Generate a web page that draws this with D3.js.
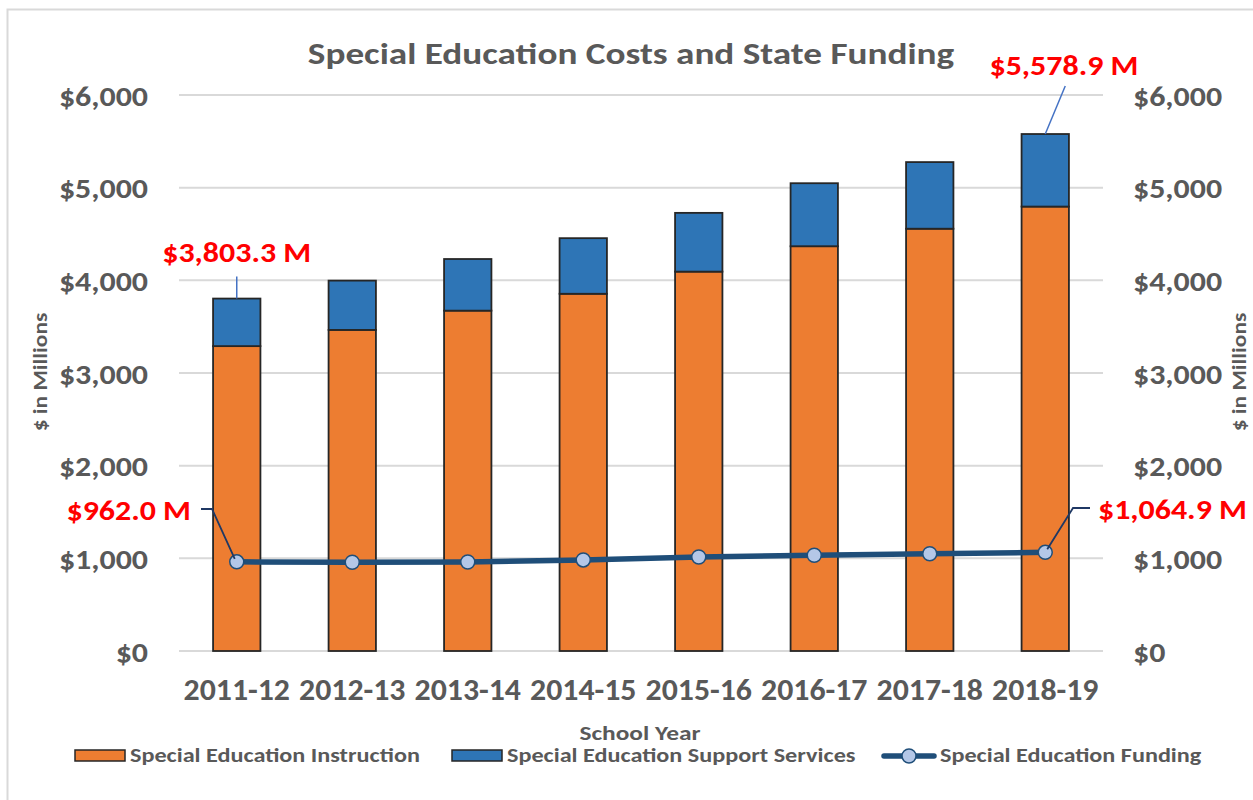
<!DOCTYPE html>
<html>
<head>
<meta charset="utf-8">
<script src="https://cdn.jsdelivr.net/npm/d3@7"></script>
<style>
  body { margin: 0; background: #fff; }
  text { font-family: Calibri, Carlito, Lato, sans-serif; font-weight: bold; }
</style>
</head>
<body>
<svg></svg>
<script>
var width = 1253,
    height = 800;

var years = ["2011-12", "2012-13", "2013-14", "2014-15", "2015-16", "2016-17", "2017-18", "2018-19"];
var instruction = [3290, 3465, 3673, 3855, 4094, 4368, 4557, 4796];
var support = [513.3, 532, 557, 600, 634, 680, 719, 782.9];
var funding = [962.0, 958, 960, 983, 1014, 1033, 1049, 1064.9];
var yTicks = [0, 1000, 2000, 3000, 4000, 5000, 6000];
var seriesNames = ["Special Education Instruction", "Special Education Support Services", "Special Education Funding"];

var grey = "#595959";

var svg = d3.select("svg")
            .attr("width", width)
            .attr("height", height);

// the source font is wider than Lato, so widen text a bit
function fit(sel, size, k) {
  sel.style("font-size", size + "px")
     .each(function() {
       var w = this.getComputedTextLength();
       d3.select(this)
         .attr("textLength", w * k)
         .attr("lengthAdjust", "spacingAndGlyphs");
     });
  return sel;
}

// chart border
svg.append("rect")
   .attr("x", 7.5).attr("y", 9.5)
   .attr("width", 1270).attr("height", 800)
   .attr("fill", "none")
   .attr("stroke", "#D9D9D9")
   .attr("stroke-width", 2);

var x = d3.scaleBand()
          .domain(years)
          .range([179, 1103])
          .paddingInner(0.59)
          .paddingOuter(0.295);

var y = d3.scaleLinear()
          .domain([0, 6000])
          .range([651, 95]);

// gridlines
svg.append("g")
   .selectAll("line")
   .data(yTicks)
   .enter()
   .append("line")
     .attr("x1", 179).attr("x2", 1103)
     .attr("y1", d => y(d)).attr("y2", d => y(d))
     .attr("stroke", "#D9D9D9")
     .attr("stroke-width", 2);

// y axes (left and right)
var fmt = d => "$" + d3.format(",")(d);
var leftAxis = svg.append("g")
   .attr("transform", "translate(179,0)")
   .call(d3.axisLeft(y).tickValues(yTicks).tickFormat(fmt).tickSize(0).tickPadding(31));
var rightAxis = svg.append("g")
   .attr("transform", "translate(1103,0)")
   .call(d3.axisRight(y).tickValues(yTicks).tickFormat(fmt).tickSize(0).tickPadding(30));
[leftAxis, rightAxis].forEach(function(a){
  a.select(".domain").remove();
  var t = a.selectAll("text")
   .attr("fill", grey)
   .attr("dy", "0.36em");
  fit(t, 28, 1.14);
});

// x axis
var xAxis = svg.append("g")
   .attr("transform", "translate(0,651)")
   .call(d3.axisBottom(x).tickSize(0).tickPadding(28));
xAxis.select(".domain").remove();
fit(xAxis.selectAll("text").attr("fill", grey), 30, 1.06);

// stacked bars
var rows = years.map((yr, i) => ({year: yr, instruction: instruction[i], support: support[i]}));
var stack = d3.stack().keys(["instruction", "support"]);
var colors = {instruction: "#ED7D31", support: "#2E75B6"};

svg.append("g")
   .selectAll("g")
   .data(stack(rows))
   .enter()
   .append("g")
     .attr("fill", d => colors[d.key])
   .selectAll("rect")
   .data(d => d)
   .enter()
   .append("rect")
     .attr("x", d => x(d.data.year))
     .attr("width", x.bandwidth())
     .attr("y", d => y(d[1]))
     .attr("height", d => y(d[0]) - y(d[1]))
     .attr("stroke", "#262626")
     .attr("stroke-width", 1.8);

// funding line
var cx = d => x(d) + x.bandwidth() / 2;
var line = d3.line()
             .x((d, i) => cx(years[i]))
             .y(d => y(d));

svg.append("path")
   .datum(funding)
   .attr("d", line)
   .attr("fill", "none")
   .attr("stroke", "#1F4E79")
   .attr("stroke-width", 5.5);

svg.append("g")
   .selectAll("circle")
   .data(funding)
   .enter()
   .append("circle")
     .attr("cx", (d, i) => cx(years[i]))
     .attr("cy", d => y(d))
     .attr("r", 7)
     .attr("fill", "#B4C7E7")
     .attr("stroke", "#1F4E79")
     .attr("stroke-width", 1.5);

// data labels with leader lines
var first = 0, last = years.length - 1;
var totFirst = instruction[first] + support[first];
var totLast = instruction[last] + support[last];
var mFmt = v => "$" + d3.format(",.1f")(v) + " M";

function label(txt, tx, ty, anchor) {
  var t = svg.append("text")
     .attr("x", tx).attr("y", ty)
     .attr("text-anchor", anchor)
     .attr("fill", "#FF0000")
     .text(txt);
  fit(t, 28, 1.14);
}

svg.append("line")
   .attr("x1", cx(years[first])).attr("x2", cx(years[first]))
   .attr("y1", y(totFirst)).attr("y2", y(totFirst) - 22)
   .attr("stroke", "#4472C4").attr("stroke-width", 1.5);
label(mFmt(totFirst), cx(years[first]), 262, "middle");

svg.append("line")
   .attr("x1", cx(years[last])).attr("y1", y(totLast))
   .attr("x2", cx(years[last]) + 20).attr("y2", y(totLast) - 48)
   .attr("stroke", "#4472C4").attr("stroke-width", 1.5);
label(mFmt(totLast), 1064, 75, "middle");

svg.append("path")
   .attr("d", d3.line()([[cx(years[first]) - 2, y(funding[first]) - 3], [212, 509], [201, 509]]))
   .attr("fill", "none").attr("stroke", "#1F3864").attr("stroke-width", 1.8);
label(mFmt(funding[first]), 191, 520, "end");

svg.append("path")
   .attr("d", d3.line()([[cx(years[last]) + 2, y(funding[last]) - 3], [1073, 508], [1090, 508]]))
   .attr("fill", "none").attr("stroke", "#1F3864").attr("stroke-width", 1.8);
label(mFmt(funding[last]), 1098, 519, "start");

// title
fit(svg.append("text")
   .attr("x", 631).attr("y", 64)
   .attr("text-anchor", "middle")
   .attr("fill", grey)
   .text("Special Education Costs and State Funding"), 30, 1.24);

// axis titles
fit(svg.append("text")
   .attr("transform", "translate(47,372) rotate(-90)")
   .attr("text-anchor", "middle")
   .attr("fill", grey)
   .text("$ in Millions"), 20, 1.17);
fit(svg.append("text")
   .attr("transform", "translate(1246,372) rotate(-90)")
   .attr("text-anchor", "middle")
   .attr("fill", grey)
   .text("$ in Millions"), 20, 1.17);
fit(svg.append("text")
   .attr("x", 640).attr("y", 740)
   .attr("text-anchor", "middle")
   .attr("fill", grey)
   .text("School Year"), 20, 1.27);

// legend
var legend = svg.append("g");
legend.append("rect")
   .attr("x", 75).attr("y", 750).attr("width", 50).attr("height", 11)
   .attr("fill", "#ED7D31").attr("stroke", "#262626").attr("stroke-width", 1.5);
fit(legend.append("text")
   .attr("x", 130).attr("y", 762).attr("fill", grey)
   .text(seriesNames[0]), 20, 1.21);
legend.append("rect")
   .attr("x", 452).attr("y", 750).attr("width", 50).attr("height", 11)
   .attr("fill", "#2E75B6").attr("stroke", "#262626").attr("stroke-width", 1.5);
fit(legend.append("text")
   .attr("x", 507).attr("y", 762).attr("fill", grey)
   .text(seriesNames[1]), 20, 1.21);
legend.append("line")
   .attr("x1", 884).attr("x2", 934).attr("y1", 756).attr("y2", 756)
   .attr("stroke", "#1F4E79").attr("stroke-width", 5.5).attr("stroke-linecap", "round");
legend.append("circle")
   .attr("cx", 909).attr("cy", 756).attr("r", 7)
   .attr("fill", "#B4C7E7").attr("stroke", "#1F4E79").attr("stroke-width", 1.5);
fit(legend.append("text")
   .attr("x", 940).attr("y", 762).attr("fill", grey)
   .text(seriesNames[2]), 20, 1.21);
</script>
</body>
</html>
